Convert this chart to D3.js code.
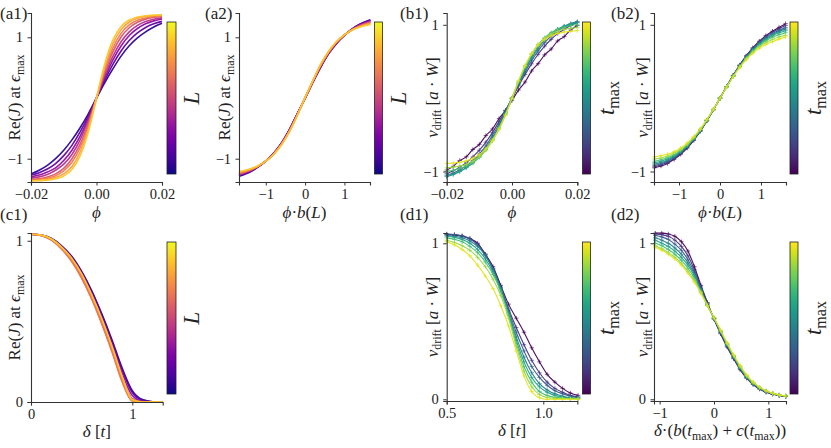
<!DOCTYPE html>
<html lang="en">
<head>
<meta charset="utf-8">
<title>Re(J) and v_drift scaling collapse</title>
<script src="https://cdn.jsdelivr.net/npm/d3@7"></script>
<style>
  body { margin: 0; background: #fff; }
  svg text { font-family: 'Liberation Serif', 'DejaVu Serif', serif; fill: #222; white-space: pre; }
</style>
</head>
<body>
<script>

// ---- data ----

// (a1) Re(J) at eps_max vs phi, one curve per L (small L first)
var phiA = [-0.02,-0.0175,-0.015,-0.0125,-0.01,-0.0075,-0.005,-0.0025,0,0.0025,0.005,0.0075,0.01,0.0125,0.015,0.0175,0.02];
var reJ_a1 = [
  [-1.25,-1.19,-1.11,-1.0,-0.86,-0.69,-0.49,-0.26,0.0,0.25,0.48,0.69,0.86,0.99,1.09,1.17,1.23],
  [-1.27,-1.23,-1.17,-1.08,-0.95,-0.78,-0.56,-0.3,0.0,0.29,0.555,0.775,0.946,1.072,1.162,1.222,1.262],
  [-1.30,-1.27,-1.22,-1.15,-1.03,-0.86,-0.63,-0.34,0.0,0.33,0.624,0.857,1.029,1.145,1.222,1.27,1.30],
  [-1.32,-1.30,-1.26,-1.19,-1.09,-0.93,-0.69,-0.37,0.0,0.369,0.686,0.926,1.089,1.195,1.26,1.297,1.319],
  [-1.34,-1.33,-1.30,-1.25,-1.16,-1.0,-0.76,-0.42,0.0,0.415,0.759,1.004,1.157,1.248,1.299,1.327,1.342],
  [-1.35,-1.34,-1.32,-1.28,-1.2,-1.06,-0.82,-0.46,0.0,0.457,0.821,1.064,1.204,1.28,1.319,1.34,1.35],
  [-1.36,-1.36,-1.34,-1.31,-1.25,-1.13,-0.89,-0.51,0.0,0.506,0.891,1.126,1.252,1.314,1.344,1.358,1.365],
  [-1.37,-1.36,-1.355,-1.33,-1.285,-1.18,-0.95,-0.56,0.0,0.555,0.954,1.178,1.285,1.333,1.355,1.363,1.367]
];

// (a2) same curves against phi*b(L)
var uA = [-1.68,-1.4,-1.2,-1.0,-0.8,-0.6,-0.4,-0.2,0,0.2,0.4,0.6,0.8,1.0,1.2,1.4,1.66];
var reJ_a2 = [
  [-1.29,-1.22,-1.14,-1.04,-0.91,-0.74,-0.52,-0.26,-0.01,0.26,0.51,0.73,0.90,1.03,1.14,1.22,1.29],
  [-1.28,-1.21,-1.135,-1.04,-0.913,-0.745,-0.525,-0.264,0,0.264,0.517,0.735,0.904,1.032,1.137,1.215,1.28],
  [-1.27,-1.205,-1.13,-1.04,-0.917,-0.75,-0.53,-0.268,0,0.268,0.523,0.74,0.908,1.034,1.134,1.21,1.27],
  [-1.26,-1.2,-1.13,-1.04,-0.92,-0.755,-0.537,-0.273,0,0.273,0.53,0.747,0.913,1.036,1.131,1.2,1.26],
  [-1.25,-1.19,-1.125,-1.04,-0.923,-0.76,-0.543,-0.278,0,0.278,0.537,0.753,0.918,1.037,1.128,1.19,1.25],
  [-1.24,-1.185,-1.125,-1.04,-0.926,-0.763,-0.55,-0.282,0,0.282,0.545,0.76,0.922,1.038,1.125,1.185,1.24],
  [-1.225,-1.175,-1.122,-1.04,-0.928,-0.767,-0.555,-0.286,0.005,0.286,0.552,0.765,0.926,1.039,1.122,1.177,1.225],
  [-1.21,-1.17,-1.12,-1.04,-0.93,-0.77,-0.56,-0.29,0.01,0.29,0.56,0.77,0.93,1.04,1.12,1.17,1.21]
];

// (b1) v_drift vs phi, one curve per t_max (small t_max first)
var phiB = [-0.02,-0.018,-0.016,-0.014,-0.012,-0.01,-0.008,-0.006,-0.004,-0.002,0,0.002,0.004,0.006,0.008,0.01,0.012,0.014,0.016,0.018,0.02];
var vd_b1 = [
  [-0.98,-0.93,-0.85,-0.80,-0.70,-0.63,-0.51,-0.42,-0.28,-0.17,-0.03,0.11,0.22,0.37,0.47,0.59,0.67,0.78,0.84,0.93,0.99],
  [-1.03,-0.99,-0.94,-0.88,-0.80,-0.71,-0.60,-0.47,-0.32,-0.165,0,0.165,0.322,0.468,0.598,0.71,0.803,0.88,0.94,0.99,1.035],
  [-1.05,-1.02,-0.975,-0.92,-0.85,-0.76,-0.65,-0.51,-0.355,-0.18,0,0.18,0.355,0.51,0.645,0.756,0.846,0.915,0.969,1.009,1.04],
  [-1.07,-1.04,-1.0,-0.945,-0.875,-0.79,-0.68,-0.545,-0.38,-0.196,0,0.196,0.38,0.542,0.679,0.788,0.872,0.936,0.983,1.018,1.04],
  [-1.06,-1.035,-1.0,-0.95,-0.885,-0.805,-0.70,-0.565,-0.40,-0.207,0,0.207,0.399,0.565,0.701,0.806,0.884,0.941,0.981,1.009,1.028],
  [-1.0,-0.985,-0.96,-0.925,-0.875,-0.80,-0.70,-0.57,-0.41,-0.22,0,0.224,0.426,0.595,0.727,0.824,0.893,0.939,0.970,0.991,1.0],
  [-0.95,-0.94,-0.925,-0.90,-0.86,-0.80,-0.71,-0.585,-0.425,-0.23,0,0.231,0.437,0.605,0.729,0.817,0.876,0.914,0.939,0.954,0.964],
  [-0.89,-0.885,-0.875,-0.855,-0.82,-0.77,-0.69,-0.575,-0.42,-0.23,0,0.236,0.445,0.607,0.724,0.80,0.851,0.883,0.901,0.913,0.92]
];

// (b2) v_drift vs phi*b(L)
var uB = [-1.6,-1.44,-1.28,-1.12,-0.96,-0.8,-0.64,-0.48,-0.32,-0.16,0,0.16,0.32,0.48,0.64,0.8,0.96,1.12,1.28,1.44,1.6];
var vd_b2 = [
  [-0.95,-0.925,-0.89,-0.835,-0.765,-0.68,-0.575,-0.452,-0.311,-0.159,0,0.159,0.311,0.452,0.578,0.687,0.777,0.853,0.913,0.965,1.015],
  [-0.935,-0.91,-0.875,-0.825,-0.755,-0.672,-0.57,-0.448,-0.308,-0.157,0,0.157,0.308,0.448,0.572,0.679,0.768,0.842,0.900,0.947,0.99],
  [-0.92,-0.895,-0.86,-0.81,-0.745,-0.665,-0.564,-0.442,-0.305,-0.156,0,0.156,0.305,0.442,0.564,0.669,0.755,0.826,0.883,0.927,0.962],
  [-0.90,-0.878,-0.845,-0.80,-0.735,-0.657,-0.558,-0.439,-0.303,-0.155,0,0.155,0.303,0.439,0.558,0.660,0.745,0.813,0.867,0.909,0.941],
  [-0.88,-0.86,-0.83,-0.785,-0.725,-0.65,-0.552,-0.435,-0.301,-0.155,0,0.155,0.301,0.435,0.552,0.652,0.734,0.799,0.850,0.891,0.920],
  [-0.86,-0.84,-0.81,-0.77,-0.715,-0.64,-0.546,-0.432,-0.299,-0.153,0,0.153,0.299,0.432,0.546,0.642,0.720,0.782,0.829,0.865,0.893],
  [-0.83,-0.815,-0.79,-0.75,-0.70,-0.628,-0.537,-0.426,-0.296,-0.152,0,0.152,0.296,0.426,0.537,0.628,0.702,0.758,0.801,0.834,0.857],
  [-0.80,-0.785,-0.765,-0.73,-0.68,-0.612,-0.525,-0.418,-0.292,-0.151,0,0.151,0.292,0.418,0.525,0.612,0.679,0.732,0.770,0.805,0.835]
];

// (c1) Re(J) at eps_max vs delta, per L
var deltaC = [0,0.1,0.2,0.3,0.4,0.5,0.6,0.7,0.8,0.9,1.0,1.1,1.2,1.3];
var reJ_c1 = [
  [1.04,1.035,1.015,0.97,0.905,0.81,0.69,0.545,0.385,0.21,0.07,0.015,0.002,0],
  [1.04,1.035,1.013,0.966,0.899,0.803,0.68,0.535,0.372,0.197,0.058,0.01,0.001,0],
  [1.04,1.034,1.01,0.96,0.89,0.79,0.665,0.518,0.35,0.175,0.04,0.005,0,0],
  [1.04,1.033,1.007,0.954,0.88,0.778,0.65,0.50,0.33,0.15,0.02,0.002,0,0],
  [1.04,1.033,1.005,0.95,0.875,0.77,0.64,0.485,0.315,0.13,0.008,0,0,0],
  [1.04,1.033,1.005,0.95,0.873,0.768,0.637,0.482,0.31,0.125,0.005,0,0,0],
  [1.04,1.035,1.01,0.96,0.89,0.79,0.66,0.51,0.34,0.15,0.01,0,0,0],
  [1.04,1.035,1.012,0.962,0.893,0.795,0.665,0.515,0.345,0.16,0.015,0,0,0]
];

// (d1) v_drift vs delta, per t_max
var deltaD = [0.5,0.54,0.58,0.62,0.66,0.70,0.74,0.78,0.82,0.86,0.90,0.94,0.98,1.02,1.06,1.10,1.14,1.18];
var vd_d1 = [
  [1.055,1.052,1.045,1.03,1.0,0.93,0.85,0.73,0.61,0.52,0.43,0.33,0.24,0.16,0.11,0.07,0.04,0.025],
  [1.058,1.055,1.048,1.03,0.995,0.93,0.84,0.72,0.58,0.46,0.35,0.25,0.17,0.11,0.07,0.045,0.025,0.015],
  [1.06,1.056,1.047,1.028,0.99,0.925,0.835,0.715,0.57,0.43,0.31,0.21,0.14,0.09,0.055,0.035,0.02,0.012],
  [1.05,1.045,1.035,1.015,0.98,0.92,0.83,0.71,0.56,0.40,0.27,0.17,0.10,0.06,0.035,0.02,0.01,0.008],
  [1.045,1.038,1.025,1.0,0.96,0.9,0.815,0.70,0.55,0.38,0.24,0.14,0.08,0.045,0.025,0.015,0.008,0.005],
  [1.035,1.025,1.01,0.98,0.94,0.88,0.80,0.69,0.54,0.36,0.21,0.11,0.05,0.025,0.012,0.008,0.005,0.004],
  [1.02,1.005,0.985,0.955,0.91,0.85,0.77,0.665,0.52,0.34,0.18,0.08,0.03,0.012,0.006,0.004,0.003,0.002],
  [1.01,0.99,0.96,0.92,0.86,0.79,0.71,0.60,0.47,0.31,0.15,0.05,0.01,0,0,0,0,0]
];

// (d2) v_drift vs delta*(b(t_max)+c(t_max))
var uD = [-1.08,-0.96,-0.84,-0.72,-0.6,-0.48,-0.36,-0.24,-0.12,0,0.12,0.24,0.36,0.48,0.6,0.72,0.84,0.96,1.08,1.2,1.32];
var vd_d2 = [
  [1.065,1.065,1.06,1.045,1.01,0.95,0.85,0.73,0.62,0.515,0.42,0.335,0.26,0.19,0.135,0.095,0.065,0.045,0.032,0.024,0.018],
  [1.06,1.055,1.045,1.02,0.98,0.92,0.83,0.72,0.615,0.515,0.425,0.34,0.265,0.195,0.138,0.097,0.067,0.047,0.034,0.025,0.019],
  [1.05,1.04,1.025,0.995,0.955,0.895,0.815,0.71,0.61,0.518,0.43,0.345,0.27,0.2,0.14,0.1,0.07,0.05,0.035,0.026,0.02],
  [1.035,1.02,1.0,0.97,0.93,0.875,0.80,0.70,0.605,0.52,0.432,0.35,0.272,0.2,0.142,0.1,0.07,0.05,0.036,0.026,0.02],
  [1.02,1.0,0.98,0.95,0.91,0.86,0.79,0.695,0.603,0.52,0.435,0.352,0.275,0.205,0.145,0.103,0.072,0.051,0.037,0.027,0.021],
  [1.0,0.985,0.96,0.93,0.89,0.84,0.775,0.69,0.60,0.52,0.437,0.355,0.278,0.208,0.148,0.105,0.074,0.052,0.037,0.027,0.021],
  [0.985,0.965,0.94,0.91,0.87,0.82,0.76,0.685,0.60,0.522,0.44,0.358,0.282,0.212,0.152,0.108,0.076,0.053,0.038,0.028,0.022],
  [0.975,0.955,0.93,0.90,0.86,0.81,0.75,0.68,0.60,0.525,0.445,0.362,0.286,0.216,0.156,0.11,0.078,0.055,0.039,0.028,0.022]
];

// position of each curve on its colour bar
var tL = [0.05,0.18,0.3,0.42,0.55,0.67,0.78,0.88];
var tT = [0,0.14,0.28,0.42,0.56,0.7,0.84,0.95];

// tick labels
var ticksPhi = [-0.02,0,0.02], ticksPhiLab = ["\u22120.02","0.00","0.02"];
var ticksPm1 = [-1,1], ticksPm1Lab = ["\u22121","1"];
var ticksU = [-1,0,1], ticksULab = ["\u22121","0","1"];
var ticks01 = [0,1], ticks01Lab = ["0","1"];
var ticksDelta = [0.5,1.0], ticksDeltaLab = ["0.5","1.0"];

// ---- labels as rich text pieces: r roman, i italic, s subscript ----
var labReJ = [["Re(","r"],["J","i"],[") at ","r"],["\u03f5","i"],["max","s"]];
var labVd = [["v","i"],["drift","s"],[" [","r"],["a","i"],[" \u00b7 ","r"],["W","i"],["]","r"]];
var labPhi = [["\u03d5","i"]];
var labPhiB = [["\u03d5","i"],["\u00b7","r"],["b","i"],["(","r"],["L","i"],[")","r"]];
var labDelta = [["\u03b4","i"],[" [","r"],["t","i"],["]","r"]];
var labD2 = [["\u03b4","i"],["\u00b7(","r"],["b","i"],["(","r"],["t","i"],["max","s"],[")","r"],[" + ","r"],["c","i"],["(","r"],["t","i"],["max","s"],["))","r"]];
var labL = [["L","i"]];
var labT = [["t","i"],["max","s"]];

var w = 831, h = 448;
var svg = d3.select("body").append("svg").attr("width", w).attr("height", h);

function rich(sel, parts, size) {
  var low = false;
  parts.forEach(function(p) {
    var ts = sel.append("tspan").text(p[0]);
    if (p[1] == "i") ts.attr("font-style", "italic");
    if (p[1] == "s") {
      ts.attr("font-size", size * 0.7);
      if (!low) { ts.attr("dy", size * 0.22); low = true; }
    } else if (low) {
      ts.attr("dy", -size * 0.22); low = false;
    }
  });
}

var defs = svg.append("defs");
function gradient(id, interp) {
  var g = defs.append("linearGradient").attr("id", id)
    .attr("x1", 0).attr("y1", 1).attr("x2", 0).attr("y2", 0);
  d3.range(0, 1.0001, 0.05).forEach(function(t) {
    g.append("stop").attr("offset", t).attr("stop-color", interp(t));
  });
}
gradient("gPlasma", d3.interpolatePlasma);
gradient("gViridis", d3.interpolateViridis);

function panel(o) {
  var x = d3.scaleLinear().domain(o.xd).range(o.xr);
  var y = d3.scaleLinear().domain(o.yd).range(o.yr);
  var g = svg.append("g");

  var line = d3.line()
    .x(function(d) { return x(d[0]); })
    .y(function(d) { return y(d[1]); })
    .curve(d3.curveMonotoneX);

  o.ys.forEach(function(ys, i) {
    var pts = o.xs.map(function(v, j) { return [v, ys[j]]; });
    var col = o.interp(o.tc[i]);
    g.append("path").attr("d", line(pts))
      .attr("fill", "none").attr("stroke", col)
      .attr("stroke-width", o.markers ? 1.1 : 1.6)
      .attr("stroke-opacity", 0.95);
    if (o.markers) {
      g.selectAll(null).data(pts).enter().append("path")
        .attr("transform", function(d) { return "translate(" + x(d[0]) + "," + y(d[1]) + ")"; })
        .attr("d", "M-2.2,0H2.2M0,-2.2V2.2")
        .attr("stroke", col).attr("stroke-width", 0.8).attr("stroke-opacity", 0.8);
    }
  });

  var ax = g.append("g").attr("transform", "translate(0," + o.yr[0] + ")")
    .call(d3.axisBottom(x).tickValues(o.xt).tickSizeOuter(0).tickSize(3.5)
      .tickFormat(function(d, i) { return o.xtl[i]; }));
  var ay = g.append("g").attr("transform", "translate(" + o.xr[0] + ",0)")
    .call(d3.axisLeft(y).tickValues(o.yt).tickSizeOuter(0).tickSize(3.5)
      .tickFormat(function(d, i) { return o.ytl[i]; }));
  [ax, ay].forEach(function(a) {
    a.select(".domain").attr("stroke", "#333").attr("stroke-width", 1.1);
    a.selectAll(".tick line").attr("stroke", "#333").attr("stroke-width", 1);
    a.selectAll(".tick text").attr("font-size", 14.5).attr("fill", "#333")
      .attr("font-family", "'Liberation Serif', 'DejaVu Serif', serif");
  });
  ax.selectAll(".tick text").attr("dy", "0.71em");
  ay.selectAll(".tick text").attr("dx", "-0.1em");

  // axis labels
  var xl = g.append("text").attr("x", (o.xr[0] + o.xr[1]) / 2).attr("y", o.yr[0] + o.xlOff)
    .attr("text-anchor", "middle").attr("font-size", 17);
  rich(xl, o.xlab, 17);
  var ylx = o.xr[0] - o.ylOff, yly = (o.yr[0] + o.yr[1]) / 2;
  var yl = g.append("text").attr("transform", "translate(" + ylx + "," + yly + ") rotate(-90)")
    .attr("text-anchor", "middle").attr("font-size", 17);
  rich(yl, o.ylab, 17);

  // colour bar
  var cb = o.cb;
  g.append("rect").attr("x", cb[0]).attr("y", cb[1]).attr("width", cb[2]).attr("height", cb[3])
    .attr("fill", "url(#" + o.grad + ")").attr("stroke", "#222").attr("stroke-width", 0.8);
  var cl = g.append("text")
    .attr("transform", "translate(" + (cb[0] + cb[2] + 23) + "," + (cb[1] + cb[3] / 2) + ") rotate(-90)")
    .attr("text-anchor", "middle").attr("font-size", 23);
  rich(cl, o.cblab, 23);

  g.append("text").attr("x", o.tag[1]).attr("y", o.tag[2]).attr("font-size", 17).text(o.tag[0]);
}

panel({ xs: phiA, ys: reJ_a1, tc: tL, interp: d3.interpolatePlasma, grad: "gPlasma",
  xd: [-0.02, 0.02], xr: [31, 162], yd: [-1.384, 1.40], yr: [182, 13],
  xt: ticksPhi, xtl: ticksPhiLab, yt: ticksPm1, ytl: ticksPm1Lab,
  xlab: labPhi, xlOff: 36, ylab: labReJ, ylOff: 11, cb: [167, 22, 9, 152], cblab: labL, tag: ["(a1)", 0, 19] });
panel({ xs: uA, ys: reJ_a2, tc: tL, interp: d3.interpolatePlasma, grad: "gPlasma",
  xd: [-1.68, 1.65], xr: [239, 370], yd: [-1.384, 1.40], yr: [182, 13],
  xt: ticksU, xtl: ticksULab, yt: ticksPm1, ytl: ticksPm1Lab,
  xlab: labPhiB, xlOff: 36, ylab: labReJ, ylOff: 9, cb: [374.5, 22, 8, 152], cblab: labL, tag: ["(a2)", 205, 19] });
panel({ xs: phiB, ys: vd_b1, tc: tT, interp: d3.interpolateViridis, grad: "gViridis", markers: true,
  xd: [-0.02, 0.02], xr: [446.7, 577.3], yd: [-1.143, 1.161], yr: [182, 13],
  xt: ticksPhi, xtl: ticksPhiLab, yt: ticksPm1, ytl: ticksPm1Lab,
  xlab: labPhi, xlOff: 36, ylab: labVd, ylOff: 9, cb: [582.5, 22, 8, 152], cblab: labT, tag: ["(b1)", 400, 19] });
panel({ xs: uB, ys: vd_b2, tc: tT, interp: d3.interpolateViridis, grad: "gViridis", markers: true,
  xd: [-1.61, 1.61], xr: [654, 786], yd: [-1.143, 1.161], yr: [182, 13],
  xt: ticksU, xtl: ticksULab, yt: ticksPm1, ytl: ticksPm1Lab,
  xlab: labPhiB, xlOff: 36, ylab: labVd, ylOff: 6, cb: [790, 22, 8, 152], cblab: labT, tag: ["(b2)", 611, 19] });
panel({ xs: deltaC, ys: reJ_c1, tc: tL, interp: d3.interpolatePlasma, grad: "gPlasma",
  xd: [0, 1.3], xr: [31, 162.7], yd: [0, 1.048], yr: [402, 233],
  xt: ticks01, xtl: ticks01Lab, yt: ticks01, ytl: ticks01Lab,
  xlab: labDelta, xlOff: 35, ylab: labReJ, ylOff: 11, cb: [167, 242, 9, 152], cblab: labL, tag: ["(c1)", 0, 220] });
panel({ xs: deltaD, ys: vd_d1, tc: tT, interp: d3.interpolateViridis, grad: "gViridis", markers: true,
  xd: [0.5, 1.176], xr: [446.7, 577.3], yd: [-0.011, 1.066], yr: [401, 233],
  xt: ticksDelta, xtl: ticksDeltaLab, yt: ticks01, ytl: ticks01Lab,
  xlab: labDelta, xlOff: 35, ylab: labVd, ylOff: 9, cb: [582.5, 242, 8, 152], cblab: labT, tag: ["(d1)", 400, 220] });
panel({ xs: uD, ys: vd_d2, tc: tT, interp: d3.interpolateViridis, grad: "gViridis", markers: true,
  xd: [-1.104, 1.325], xr: [654, 786], yd: [-0.011, 1.066], yr: [401, 233],
  xt: ticksU, xtl: ticksULab, yt: ticks01, ytl: ticks01Lab,
  xlab: labD2, xlOff: 35, ylab: labVd, ylOff: 6, cb: [790, 242, 8, 152], cblab: labT, tag: ["(d2)", 611, 220] });

</script>
</body>
</html>
